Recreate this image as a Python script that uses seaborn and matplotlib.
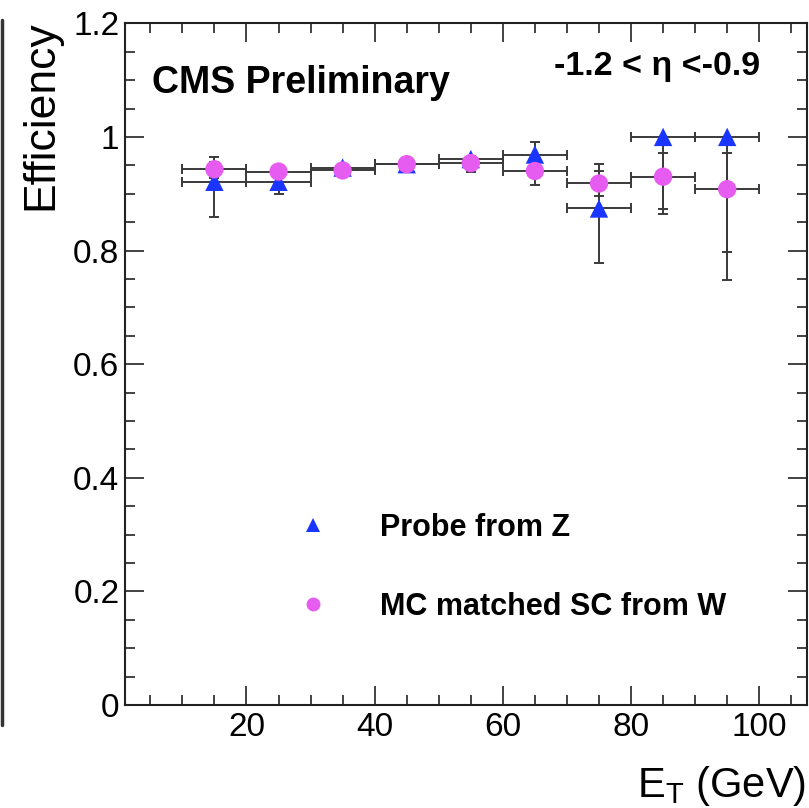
import numpy as np
import pandas as pd
import matplotlib
matplotlib.use("Agg")
import matplotlib.pyplot as plt
from matplotlib.lines import Line2D
from matplotlib.ticker import MultipleLocator
import seaborn as sns

# ---- data ----
et_centers = [15, 25, 35, 45, 55, 65, 75, 85, 95]
et_halfwidth = [5, 5, 5, 5, 5, 5, 5, 5, 5]

z_eff = [0.921, 0.921, 0.946, 0.952, 0.961, 0.969, 0.874, 1.000, 1.000]
z_err_lo = [0.062, 0.022, 0.006, 0.005, 0.006, 0.016, 0.096, 0.135, 0.251]
z_err_hi = [0.035, 0.012, 0.005, 0.004, 0.005, 0.022, 0.078, 0.000, 0.000]

w_eff = [0.943, 0.939, 0.941, 0.952, 0.954, 0.940, 0.918, 0.930, 0.908]
w_err_lo = [0.015, 0.010, 0.005, 0.005, 0.016, 0.025, 0.022, 0.057, 0.110]
w_err_hi = [0.022, 0.010, 0.005, 0.004, 0.006, 0.012, 0.022, 0.041, 0.064]

label_z = "Probe from Z"
label_w = "MC matched SC from W"
xticks = [20, 40, 60, 80, 100]
yticks = [0, 0.2, 0.4, 0.6, 0.8, 1, 1.2]
ytick_labels = ["0", "0.2", "0.4", "0.6", "0.8", "1", "1.2"]

# ---- style ----
sns.set_theme(style="ticks")
plt.rcParams["font.family"] = ["Liberation Sans", "DejaVu Sans"]
plt.rcParams["mathtext.fontset"] = "custom"
plt.rcParams["mathtext.rm"] = "Liberation Sans"
plt.rcParams["text.color"] = "black"
plt.rcParams["axes.labelcolor"] = "black"

blue = "#1a35ff"
magenta = "#e65cf0"
ebar = "#3a3a3a"

W, H = 809, 808
fig = plt.figure(figsize=(W / 100, H / 100), dpi=100)
ax = fig.add_axes([125 / W, (H - 705) / H, (807 - 125) / W, (705 - 23.3) / H])

df = pd.DataFrame({
    "et": et_centers * 2,
    "eff": z_eff + w_eff,
    "sample": [label_z] * len(et_centers) + [label_w] * len(et_centers),
})

# error bars
ax.errorbar(et_centers, z_eff, xerr=et_halfwidth, yerr=[z_err_lo, z_err_hi],
            fmt="none", ecolor=ebar, elinewidth=1.4, capsize=3.5, capthick=1.4, zorder=2)
ax.errorbar(et_centers, w_eff, xerr=et_halfwidth, yerr=[w_err_lo, w_err_hi],
            fmt="none", ecolor=ebar, elinewidth=1.4, capsize=3.5, capthick=1.4, zorder=2)

sns.scatterplot(data=df, x="et", y="eff", hue="sample", style="sample",
                palette={label_z: blue, label_w: magenta},
                markers={label_z: "^", label_w: "o"},
                s=175, linewidth=0, legend=False, ax=ax, zorder=3)

ax.set_xlim(1.05, 107.45)
ax.set_ylim(0, 1.2)
ax.set_xlabel("")
ax.set_ylabel("")
ax.set_xticks(xticks)
ax.xaxis.set_minor_locator(MultipleLocator(5))
ax.set_yticks(yticks)
ax.set_yticklabels(ytick_labels)
ax.yaxis.set_minor_locator(MultipleLocator(0.05))
ax.tick_params(which="both", direction="in", top=True, right=True, colors="#222222",
               labelcolor="black", width=1.2)
ax.tick_params(which="major", length=14, labelsize=24)
ax.tick_params(which="minor", length=7)
ax.tick_params(axis="x", which="major", pad=5)
ax.tick_params(axis="y", which="major", pad=4)
for sp in ax.spines.values():
    sp.set_visible(True)
    sp.set_linewidth(1.5)
    sp.set_color("#222222")

# texts
ax.text(152 / W, (H - 92.7) / H, "CMS Preliminary", transform=fig.transFigure,
        fontsize=27, fontweight="bold", ha="left", va="baseline", color="black")
ax.text(760 / W, (H - 75) / H, "-1.2 < η <-0.9", transform=fig.transFigure,
        fontsize=24.5, fontweight="bold", ha="right", va="baseline", color="black")
fig.text(41 / W, (H - 20) / H, "Efficiency", rotation=90, fontsize=32,
         ha="center", va="top", color="black")
fig.text(637 / W, (H - 796.7) / H, r"E$_{\mathrm{T}}$ (GeV)", fontsize=30,
         ha="left", va="baseline", color="black")

# legend
handles = [
    Line2D([], [], linestyle="none", marker="^", markersize=10, color=blue, markeredgewidth=0),
    Line2D([], [], linestyle="none", marker="o", markersize=10, color=magenta, markeredgewidth=0),
]
leg = ax.legend(handles, [label_z, label_w], frameon=False, loc="upper left",
                bbox_to_anchor=(282 / W, (H - 513) / H), bbox_transform=fig.transFigure,
                prop={"family": "Liberation Sans", "weight": "bold", "size": 22},
                labelspacing=1.6, handletextpad=1.2, borderpad=0, borderaxespad=0)
for t in leg.get_texts():
    t.set_color("black")

# remnant of neighbouring panel at the left edge
fig.add_artist(Line2D([1.5 / W, 1.5 / W], [(H - 20) / H, (H - 725) / H],
                      transform=fig.transFigure, color="#333333", linewidth=2.5))

fig.savefig("out.png", dpi=100)
